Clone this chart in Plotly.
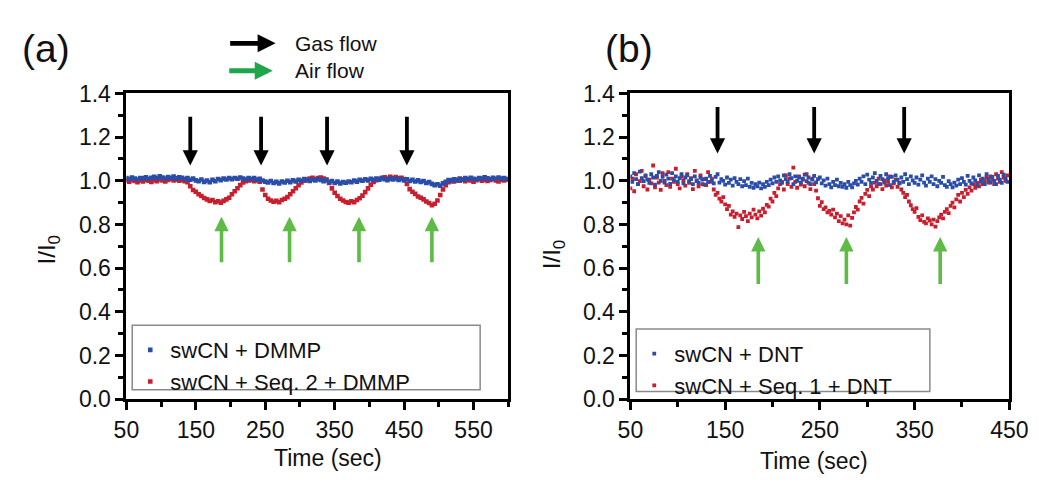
import plotly.graph_objects as go

W, H = 1039, 485
def fx(p):
    return p / W
def fy(p):
    return 1 - p / H

# ---------------- data ----------------
time_a = list(range(50, 600, 4))   # sampling times, panel (a)
time_b = list(range(50, 450, 2))   # sampling times, panel (b)

blue_a = [
    1.012, 1.008, 1.015, 1.010, 1.006, 1.013, 1.011, 1.016, 1.009, 1.014,
    1.018, 1.012, 1.020, 1.015, 1.010, 1.017, 1.013, 1.019, 1.011, 1.016,
    1.014, 1.008, 1.012, 1.005, 1.010, 1.002, 0.998, 1.006, 0.995, 1.001,
    0.993, 1.004, 0.998, 1.008, 1.003, 1.010, 1.006, 1.012, 1.007, 1.013,
    1.009, 1.015, 1.010, 1.006, 1.013, 1.008, 1.012, 1.004, 1.009, 1.001,
    0.996, 0.992, 0.999, 0.990, 0.995, 0.988, 0.997, 0.992, 1.000, 0.994,
    1.002, 0.997, 1.005, 1.000, 1.008, 1.003, 0.999, 1.006, 1.001, 1.007,
    1.004, 0.998, 1.003, 0.994, 0.999, 0.990, 0.996, 0.988, 0.994, 0.991,
    0.997, 0.993, 1.001, 0.996, 1.004, 1.000, 1.007, 1.002, 1.009, 1.004,
    1.010, 1.005, 1.012, 1.007, 1.003, 1.010, 1.006, 1.011, 1.004, 1.008,
    1.002, 1.007, 0.999, 1.004, 0.997, 1.002, 0.995, 0.999, 0.990, 0.994,
    0.986, 0.980, 0.984, 0.978, 0.988, 0.995, 1.003, 0.998, 1.007, 1.002,
    1.010, 1.005, 1.012, 1.008, 1.014, 1.009, 1.006, 1.013, 1.010, 1.016,
    1.011, 1.007, 1.014, 1.009, 1.015, 1.010, 1.013, 1.008,
]

red_a = [
    1.002, 0.996, 1.004, 0.999, 0.993, 1.001, 0.997, 1.005, 1.000, 0.995,
    1.003, 0.998, 1.006, 1.001, 0.997, 1.004, 1.008, 1.002, 1.006, 1.000,
    1.004, 0.998, 0.994, 0.975, 0.958, 0.950, 0.938, 0.930, 0.921, 0.915,
    0.908, 0.912, 0.902, 0.906, 0.900, 0.908, 0.915, 0.922, 0.938, 0.952,
    0.966, 0.980, 0.992, 0.998, 1.002, 1.004, 0.998, 1.003, 0.996, 0.960,
    0.935, 0.918, 0.910, 0.904, 0.908, 0.902, 0.912, 0.918, 0.925, 0.938,
    0.952, 0.966, 0.980, 0.992, 1.000, 1.006, 1.010, 1.014, 1.008, 1.012,
    1.015, 1.010, 1.006, 0.990, 0.965, 0.945, 0.930, 0.918, 0.910, 0.903,
    0.900, 0.906, 0.902, 0.912, 0.920, 0.932, 0.948, 0.965, 0.982, 0.995,
    1.003, 1.008, 1.012, 1.016, 1.010, 1.018, 1.013, 1.017, 1.011, 1.014,
    1.008, 0.985, 0.962, 0.950, 0.940, 0.928, 0.922, 0.915, 0.905, 0.898,
    0.888, 0.895, 0.910, 0.935, 0.960, 0.980, 0.994, 1.002, 0.997, 1.005,
    1.000, 1.006, 0.998, 1.004, 1.001, 0.996, 1.003, 1.007, 1.000, 1.005,
    0.999, 1.004, 1.008, 1.002, 0.997, 1.005, 1.001, 1.006,
]

blue_b = [
    1.020, 0.995, 1.035, 1.008, 0.985, 1.042, 1.012, 0.998, 1.025, 1.005,
    0.990, 1.030, 1.015, 0.982, 1.022, 1.040, 1.000, 1.018, 0.992, 1.028,
    1.010, 0.986, 1.035, 1.003, 1.020, 0.995, 1.012, 1.030, 0.988, 1.015,
    1.025, 0.998, 1.008, 0.985, 1.020, 1.002, 0.990, 1.015, 1.005, 0.982,
    1.010, 0.995, 1.022, 1.000, 0.988, 1.018, 1.030, 0.992, 1.008, 1.000,
    0.982, 1.015, 0.990, 1.005, 0.978, 1.012, 0.995, 0.985, 1.008, 0.975,
    0.998, 0.980, 1.010, 0.972, 0.990, 0.968, 0.985, 0.975, 0.992, 0.965,
    0.985, 0.972, 0.995, 0.980, 1.005, 0.988, 1.015, 0.995, 1.020, 1.002,
    0.990, 1.025, 1.008, 0.995, 1.030, 1.012, 0.985, 1.020, 1.000, 1.015,
    0.992, 1.010, 1.028, 0.998, 1.015, 0.985, 1.005, 1.022, 0.993, 1.008,
    1.015, 0.988, 1.002, 0.978, 1.010, 0.985, 0.970, 0.995, 0.980, 1.005,
    0.975, 0.990, 0.972, 0.985, 0.968, 0.995, 0.980, 0.970, 0.988, 1.000,
    0.982, 1.010, 0.995, 1.020, 0.985, 1.028, 1.005, 0.990, 1.015, 1.035,
    1.000, 0.985, 1.022, 1.008, 0.992, 1.030, 1.012, 0.980, 1.018, 0.995,
    1.025, 1.005, 0.988, 1.015, 0.995, 1.030, 1.008, 0.985, 1.020, 1.002,
    0.990, 1.015, 0.982, 1.005, 1.025, 0.992, 0.978, 1.010, 0.995, 1.020,
    0.985, 1.008, 0.975, 1.000, 0.990, 1.018, 0.980, 0.972, 0.998, 0.985,
    0.970, 0.992, 0.978, 1.005, 0.985, 1.012, 0.995, 0.982, 1.022, 1.000,
    0.988, 1.015, 1.002, 0.980, 1.025, 0.995, 1.010, 0.985, 1.030, 1.008,
    0.992, 1.018, 1.000, 0.985, 1.022, 1.005, 0.990, 1.028, 1.010, 0.995,
]

red_b = [
    0.965, 1.010, 0.952, 1.030, 0.985, 0.998, 1.045, 0.975, 1.020, 0.960,
    1.005, 0.988, 1.070, 0.970, 1.015, 0.992, 0.958, 1.035, 1.000, 0.980,
    1.040, 0.972, 1.010, 0.995, 1.055, 0.985, 0.965, 1.020, 1.002, 0.978,
    1.030, 0.990, 1.012, 0.962, 1.045, 0.998, 0.975, 1.025, 0.985, 1.008,
    0.980, 1.040, 0.995, 1.010, 0.960, 0.935, 0.945, 0.918, 0.905, 0.925,
    0.892, 0.870, 0.885, 0.845, 0.860, 0.835, 0.850, 0.788, 0.842, 0.825,
    0.858, 0.838, 0.815, 0.850, 0.832, 0.868, 0.845, 0.828, 0.860, 0.840,
    0.872, 0.855, 0.890, 0.882, 0.918, 0.905, 0.945, 0.930, 0.965, 0.985,
    0.995, 0.960, 1.025, 0.985, 1.010, 0.972, 1.060, 0.995, 0.968, 1.020,
    0.982, 1.005, 0.975, 1.030, 0.990, 0.962, 1.010, 0.985, 0.955, 0.920,
    0.885, 0.902, 0.870, 0.878, 0.855, 0.862, 0.845, 0.868, 0.832, 0.850,
    0.815, 0.838, 0.805, 0.822, 0.800, 0.842, 0.795, 0.830, 0.855, 0.880,
    0.868, 0.905, 0.922, 0.895, 0.940, 0.958, 0.930, 0.975, 0.960, 0.992,
    0.975, 1.010, 0.985, 0.962, 1.002, 0.978, 0.995, 1.020, 0.970, 0.988,
    1.005, 0.972, 0.990, 0.960, 0.945, 0.925, 0.935, 0.905, 0.888, 0.870,
    0.858, 0.875, 0.835, 0.820, 0.842, 0.812, 0.805, 0.828, 0.818, 0.800,
    0.822, 0.790, 0.815, 0.832, 0.845, 0.828, 0.858, 0.870, 0.852, 0.885,
    0.900, 0.878, 0.915, 0.935, 0.905, 0.945, 0.925, 0.958, 0.940, 0.970,
    0.955, 0.985, 0.968, 0.990, 0.975, 1.005, 0.985, 0.998, 1.015, 0.992,
    1.020, 1.005, 0.985, 1.030, 1.010, 0.995, 1.040, 1.015, 1.000, 1.025,
]

# arrow times (sec)
gas_a = [142, 244, 339, 454]
air_a = [187, 285, 385, 490]
gas_b = [142, 244, 339]
air_b = [185, 278, 377]

x_ticks_a = [50, 150, 250, 350, 450, 550]
x_ticks_b = [50, 150, 250, 350, 450]
y_ticks = [0.0, 0.2, 0.4, 0.6, 0.8, 1.0, 1.2, 1.4]

BLUE = "#2A4DA8"
RED = "#C81E2D"
GREEN = "#5DBB46"
HEAD_GREEN = "#1FA64A"
FONT = "Liberation Sans, Arial, sans-serif"

fig = go.Figure()
fig.add_trace(go.Scatter(x=time_a, y=red_a, mode="markers", name="swCN + Seq. 2 + DMMP",
                         marker=dict(symbol="square", size=4.6, color=RED),
                         xaxis="x", yaxis="y", legend="legend", legendrank=2))
fig.add_trace(go.Scatter(x=time_a, y=blue_a, mode="markers", name="swCN + DMMP",
                         marker=dict(symbol="square", size=4.6, color=BLUE),
                         xaxis="x", yaxis="y", legend="legend", legendrank=1))
fig.add_trace(go.Scatter(x=time_b, y=red_b, mode="markers", name="swCN + Seq. 1 + DNT",
                         marker=dict(symbol="square", size=3.8, color=RED),
                         xaxis="x2", yaxis="y2", legend="legend2", legendrank=2))
fig.add_trace(go.Scatter(x=time_b, y=blue_b, mode="markers", name="swCN + DNT",
                         marker=dict(symbol="square", size=3.8, color=BLUE),
                         xaxis="x2", yaxis="y2", legend="legend2", legendrank=1))

axis_common = dict(
    showline=True, linecolor="black", linewidth=2.8, mirror=True,
    ticks="outside", ticklen=8, tickwidth=2.8, tickcolor="black",
    showgrid=False, zeroline=False, ticklabeloverflow="allow",
    tickfont=dict(family=FONT, size=23, color="#111"),
)

def xaxis(domain, rng, ticks, anchor):
    d = dict(axis_common)
    d.update(domain=domain, range=rng, tickmode="array", tickvals=ticks,
             ticktext=[str(t) for t in ticks], anchor=anchor,
             minor=dict(dtick=50, tick0=0, ticks="outside", ticklen=5, tickwidth=2.8,
                        tickcolor="black", showgrid=False))
    return d

def yaxis(anchor):
    d = dict(axis_common)
    d.update(domain=[fy(408), fy(85)], range=[0, 1.4], tickmode="array",
             tickvals=y_ticks, ticktext=["%.1f" % v for v in y_ticks], anchor=anchor,
             minor=dict(dtick=0.1, tick0=0, ticks="outside", ticklen=5, tickwidth=2.8,
                        tickcolor="black", showgrid=False))
    return d

annotations = []
def arrow(x, y, ax, ay, xr, yr, color, width):
    annotations.append(dict(x=x, y=y, ax=ax, ay=ay, xref=xr, yref=yr, axref=xr, ayref=yr,
                            text="", showarrow=True, arrowhead=2, arrowsize=0.8,
                            arrowwidth=width, arrowcolor=color, standoff=0))

for t in gas_a:
    arrow(t, 1.07, t, 1.30, "x", "y", "black", 3.8)
for t in air_a:
    arrow(t, 0.835, t, 0.62, "x", "y", GREEN, 3.6)
for t in gas_b:
    arrow(t, 1.125, t, 1.345, "x2", "y2", "black", 3.8)
for t in air_b:
    arrow(t, 0.742, t, 0.52, "x2", "y2", GREEN, 3.6)

# header arrows (paper)
annotations.append(dict(x=fx(271), y=fy(32), xref="paper", yref="paper", ax=-47, ay=0,
                        text="", showarrow=True, arrowhead=2, arrowsize=0.75, arrowwidth=4.8,
                        arrowcolor="black", standoff=0))
annotations.append(dict(x=fx(268), y=fy(61), xref="paper", yref="paper", ax=-45, ay=0,
                        text="", showarrow=True, arrowhead=2, arrowsize=0.75, arrowwidth=4.8,
                        arrowcolor=HEAD_GREEN, standoff=0))

def text(x, y, s, size, xanchor="center", angle=0):
    annotations.append(dict(x=fx(x), y=fy(y), xref="paper", yref="paper", text=s,
                            showarrow=False, xanchor=xanchor, yanchor="middle",
                            textangle=angle, font=dict(family=FONT, size=size, color="#111")))

text(289, 32, "Gas flow", 21, "left")
text(289, 61, "Air flow", 21, "left")
text(34, 38, "(a)", 39)
text(636, 38, "(b)", 39)
text(37, 250, "I/I<sub>0</sub>", 24, angle=-90)
text(557, 255, "I/I<sub>0</sub>", 24, angle=-90)
text(325, 470, "Time (sec)", 23)
text(826, 473, "Time (sec)", 23)

shapes = [
    dict(type="rect", xref="paper", yref="paper", x0=fx(123), x1=fx(482), y0=fy(398), y1=fy(330),
         line=dict(color="#8a8a8a", width=1.5)),
    dict(type="rect", xref="paper", yref="paper", x0=fx(643), x1=fx(946), y0=fy(400), y1=fy(334),
         line=dict(color="#8a8a8a", width=1.5)),
]

legend_common = dict(
    bgcolor="rgba(0,0,0,0)", borderwidth=0, font=dict(family=FONT, size=22, color="#111"),
    xanchor="left", yanchor="top", traceorder="normal", itemsizing="trace",
    tracegroupgap=2, xref="paper", yref="paper",
)

fig.update_layout(
    width=W, height=H,
    margin=dict(l=0, r=0, t=0, b=0),
    paper_bgcolor="white", plot_bgcolor="white",
    font=dict(family=FONT, color="#111"),
    xaxis=xaxis([fx(117), fx(511)], [50, 600], x_ticks_a, "y"),
    yaxis=yaxis("x"),
    xaxis2=xaxis([fx(637), fx(1028)], [50, 450], x_ticks_b, "y2"),
    yaxis2=yaxis("x2"),
    legend=dict(legend_common, x=fx(121), y=fy(334)),
    legend2=dict(legend_common, x=fx(641), y=fy(338)),
    annotations=annotations,
    shapes=shapes,
    showlegend=True,
)

fig.write_html("out.html")
